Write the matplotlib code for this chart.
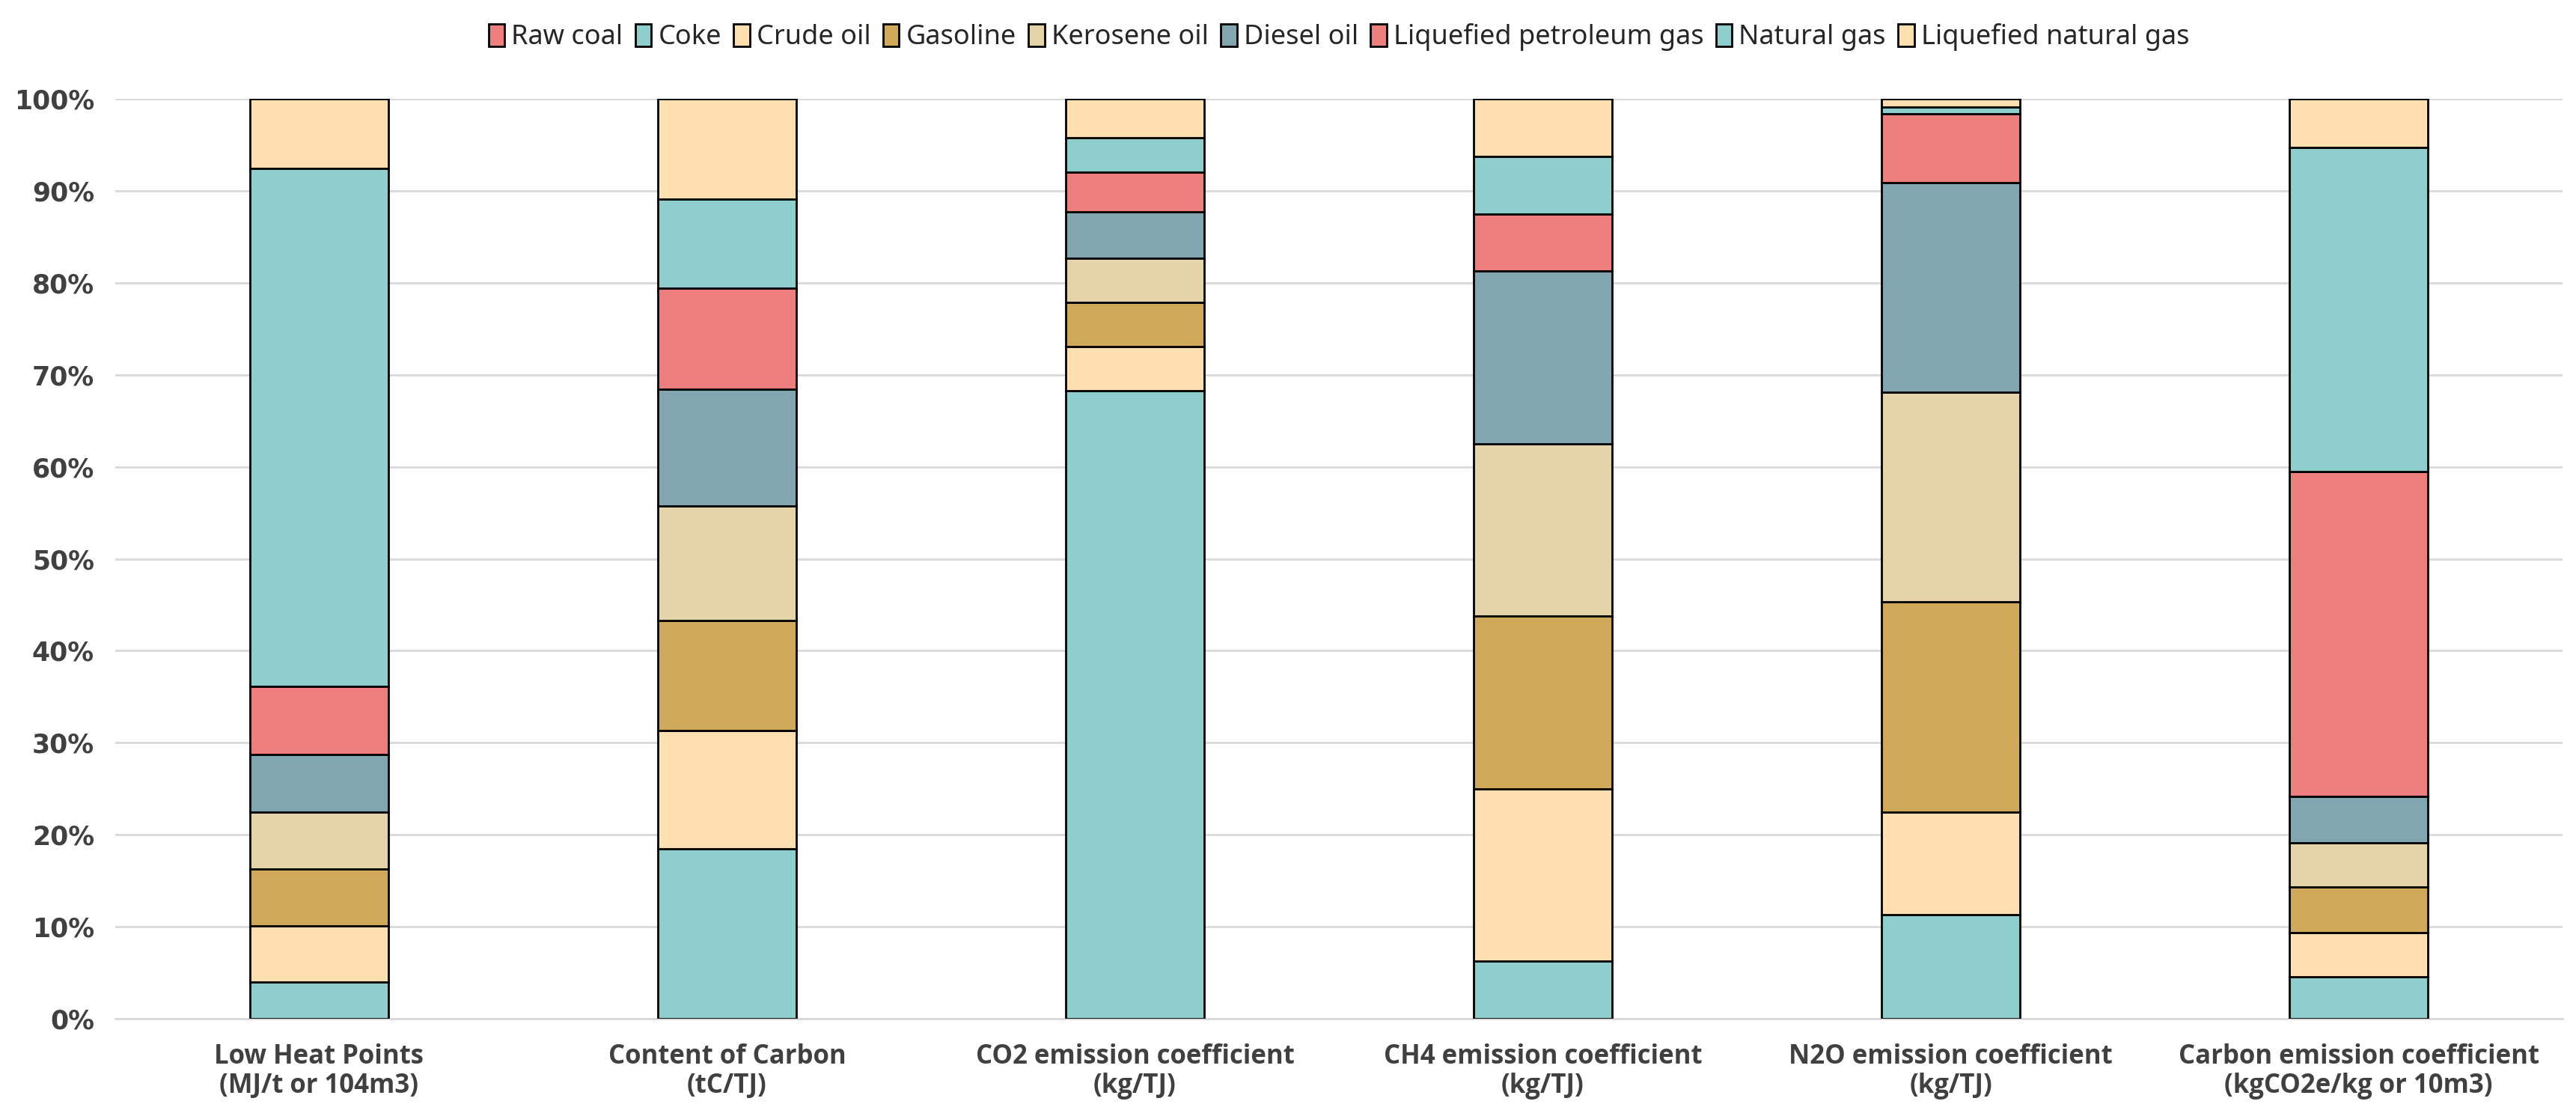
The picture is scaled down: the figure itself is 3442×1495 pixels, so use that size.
import numpy as np
import matplotlib.pyplot as plt
from matplotlib.ticker import PercentFormatter

# share of each fuel in each indicator (%), bottom to top
categories = ["Low Heat Points\n(MJ/t or 104m3)", "Content of Carbon\n(tC/TJ)",
              "CO2 emission coefficient\n(kg/TJ)", "CH4 emission coefficient\n(kg/TJ)",
              "N2O emission coefficient\n(kg/TJ)", "Carbon emission coefficient\n(kgCO2e/kg or 10m3)"]
fuels = ["Raw coal", "Coke", "Crude oil", "Gasoline", "Kerosene oil", "Diesel oil",
         "Liquefied petroleum gas", "Natural gas", "Liquefied natural gas"]

raw_coal = [0.0, 0.0, 0.0, 0.0, 0.0, 0.0]
coke = [4.0, 18.5, 68.3, 6.25, 11.3, 4.6]
crude_oil = [6.1, 12.8, 4.8, 18.75, 11.2, 4.8]
gasoline = [6.2, 12.0, 4.8, 18.75, 22.8, 4.9]
kerosene = [6.2, 12.4, 4.8, 18.75, 22.8, 4.8]
diesel = [6.2, 12.7, 5.0, 18.75, 22.8, 5.1]
lpg = [7.4, 11.0, 4.3, 6.25, 7.5, 35.3]
natural_gas = [56.3, 9.7, 3.8, 6.25, 0.7, 35.2]
lng = [7.6, 10.9, 4.2, 6.25, 0.9, 5.3]

series = [raw_coal, coke, crude_oil, gasoline, kerosene, diesel, lpg, natural_gas, lng]
colors = ["#EC7E7E", "#8ECFCE", "#FEE0B0", "#CFA85A", "#E5D3AA", "#82A6B0",
          "#EC7E7E", "#8ECFCE", "#FEE0B0"]

fig = plt.figure(figsize=(17.21, 7.475), dpi=200)
ax = fig.add_axes([0.0447, 0.0896, 0.9501, 0.8221])

x = np.arange(len(categories))
bottom = np.zeros(len(categories))
for name, vals, c in zip(fuels, series, colors):
    vals = np.array(vals)
    ax.bar(x, vals, width=0.34, bottom=bottom, color=c, edgecolor="black",
           linewidth=1.0, label=name, zorder=3)
    bottom += vals

ax.set_xlim(-0.5, len(categories) - 0.5)
ax.set_ylim(0, 100)
ax.set_yticks(np.arange(0, 101, 10))
ax.yaxis.set_major_formatter(PercentFormatter(decimals=0))
ax.grid(axis="y", color="#D9D9D9", linewidth=1.0, zorder=0)
for s in ["top", "right", "left"]:
    ax.spines[s].set_visible(False)
ax.spines["bottom"].set_color("#D9D9D9")
ax.spines["bottom"].set_linewidth(1.0)
ax.tick_params(axis="both", length=0, colors="#404040")
ax.tick_params(axis="y", pad=10)
ax.tick_params(axis="x", pad=12)

ax.set_xticks(x)
ax.set_xticklabels(categories, fontsize=12.5, fontweight="bold", family="Open Sans",
                   color="#404040", linespacing=1.1)
for lab in ax.get_yticklabels():
    lab.set_fontsize(12.5)
    lab.set_fontweight("bold")
    lab.set_family("DejaVu Sans")
    lab.set_color("#404040")

ax.legend(loc="center", bbox_to_anchor=(0.5, 1.067), ncol=9, frameon=False,
          prop={"family": "Noto Sans", "size": 13}, handlelength=0.6, handleheight=0.9,
          handletextpad=0.25, columnspacing=0.45, labelcolor="#262626")

fig.savefig("out.png", dpi=200)
